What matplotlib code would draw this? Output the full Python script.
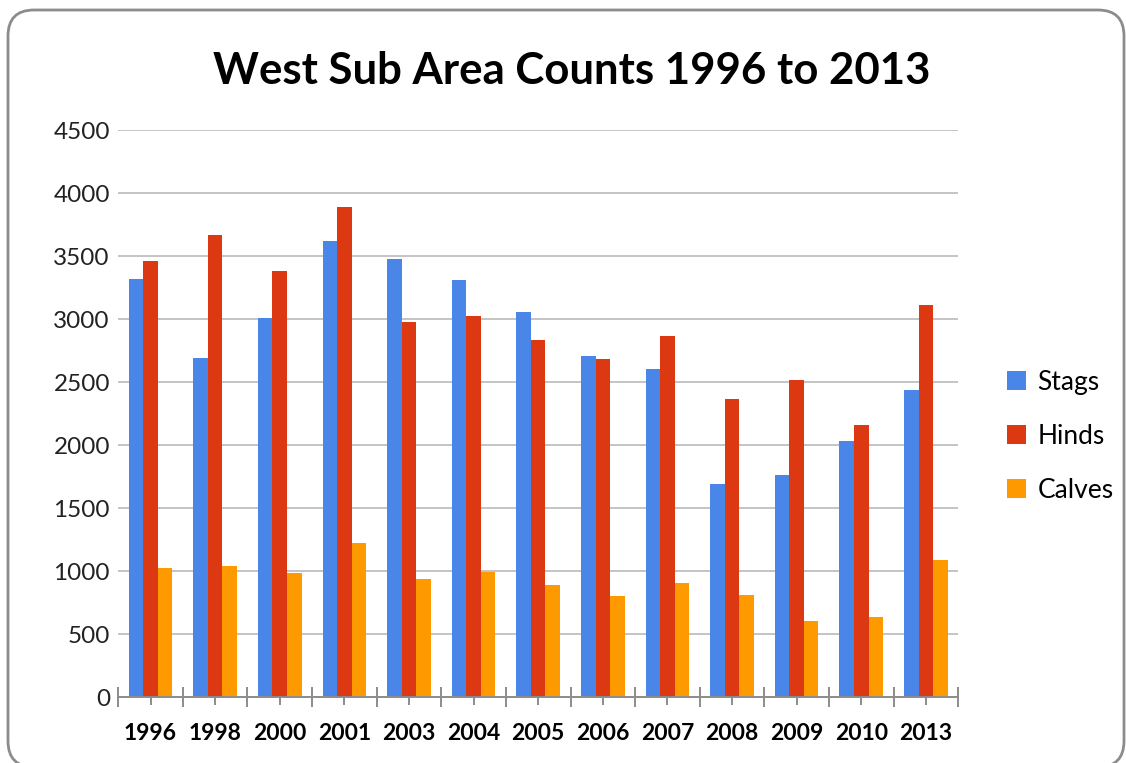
"""West Sub Area deer counts, 1996 to 2013, as grouped bars."""
import numpy as np
import matplotlib.pyplot as plt
from matplotlib.patches import FancyBboxPatch

years = ["1996", "1998", "2000", "2001", "2003", "2004", "2005",
         "2006", "2007", "2008", "2009", "2010", "2013"]
stags = [3320, 2690, 3010, 3620, 3480, 3310, 3060, 2710, 2600, 1690, 1765, 2030, 2435]
hinds = [3460, 3670, 3385, 3890, 2980, 3025, 2830, 2680, 2865, 2365, 2515, 2158, 3110]
calves = [1027, 1043, 982, 1224, 937, 995, 890, 798, 903, 810, 603, 637, 1087]

series = [("Stags", stags, "#4a86e8"),
          ("Hinds", hinds, "#dc3912"),
          ("Calves", calves, "#ff9900")]

FONT = "Lato"


def main():
    fig = plt.figure(figsize=(11.26, 7.63), dpi=100)
    ax = fig.add_axes([0.105, 0.0865, 0.746, 0.743])

    # rounded chart frame, partly cut off at right and bottom like the source
    frame = FancyBboxPatch((8, -4), 1116, 757, boxstyle="round,pad=0,rounding_size=26",
                           transform=None, facecolor="none", edgecolor="#8c8c8c",
                           linewidth=2.0, zorder=10)
    fig.patches.append(frame)

    x = np.arange(len(years))
    width = 0.225
    for i, (name, vals, color) in enumerate(series):
        ax.bar(x + (i - 1) * width, vals, width, color=color, label=name,
               edgecolor="none", zorder=3)

    ax.set_xlim(-0.5, len(years) - 0.5)
    ax.set_ylim(0, 4500)
    ax.set_yticks(np.arange(0, 4501, 500))
    ax.yaxis.grid(True, color="#c4c4c4", linewidth=1.4, zorder=0)
    ax.set_axisbelow(True)

    for side in ["left", "right", "top"]:
        ax.spines[side].set_visible(False)
    ax.spines["bottom"].set_color("#8c8c8c")
    ax.spines["bottom"].set_linewidth(1.4)
    ax.spines["bottom"].set_zorder(4)

    ax.tick_params(axis="y", length=0, pad=6, labelsize=17.5, labelcolor="#222222")
    ax.set_xticks(x)
    ax.set_xticklabels(years, fontweight="bold", fontsize=16.5)
    ax.set_xticks(np.arange(-0.5, len(years)), minor=True)
    ax.tick_params(axis="x", which="major", direction="out", length=6,
                   width=1.4, color="#8c8c8c", pad=13)
    ax.tick_params(axis="x", which="minor", direction="inout", length=14,
                   width=1.4, color="#8c8c8c")
    for lab in ax.get_yticklabels() + ax.get_xticklabels():
        lab.set_family(FONT)

    fig.text(0.508, 0.907, "West Sub Area Counts 1996 to 2013", ha="center",
             va="center", fontsize=31.5, fontweight="bold", family=FONT)

    ax.legend(loc="center left", bbox_to_anchor=(1.03, 0.46), frameon=False,
              prop={"family": FONT, "size": 19}, handlelength=0.7,
              handleheight=0.7, handletextpad=0.45, labelspacing=1.1)

    fig.savefig("out.png", dpi=100)


if __name__ == "__main__":
    main()
